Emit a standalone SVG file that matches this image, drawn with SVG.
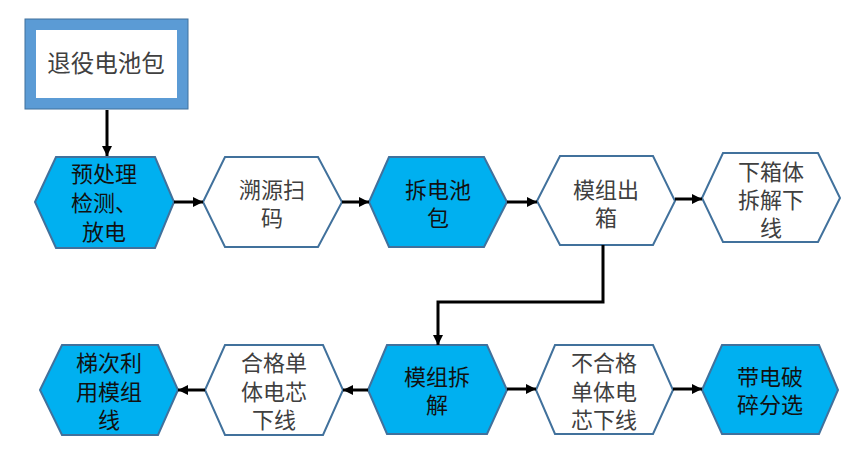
<svg xmlns="http://www.w3.org/2000/svg" width="863" height="472" viewBox="0 0 863 472">
<defs>
<style>
.blue{fill:#00B0F0;stroke:#41719C;stroke-width:2}
.white{fill:#FFFFFF;stroke:#41719C;stroke-width:2}
text{font-family:"Noto Sans CJK SC","Noto Sans",sans-serif;font-size:22px;text-anchor:middle}
.tb{fill:#111111}
.tw{fill:#404040}
.big{font-size:23.5px}
.conn{fill:none;stroke:#000;stroke-width:3}
</style>
<marker id="ah" markerUnits="userSpaceOnUse" markerWidth="12" markerHeight="12" refX="10" refY="5" orient="auto">
<path d="M0,0 L10,5 L0,10 Z" fill="#000"/>
</marker>
</defs>
<rect width="863" height="472" fill="#FFFFFF"/>
<g id="n0">
<rect x="30.5" y="24.5" width="152" height="79" fill="#FFFFFF" stroke="#5B9BD5" stroke-width="11"/>
<rect x="25" y="19" width="163" height="90" fill="none" stroke="#41719C" stroke-width="1"/>
<text class="tw big" x="106" y="72">退役电池包</text>
</g>
<g id="n1">
<polygon class="blue" points="35,202 56,157 155,157 174,202 155,248 56,248"/>
<text class="tb" x="104" y="182">预处理<tspan x="104" dy="29">检测、</tspan><tspan x="104" dy="29">放电</tspan></text>
</g>
<g id="n2">
<polygon class="white" points="203,202 225,157 318,157 342,202 318,247 225,247"/>
<text class="tw" x="272" y="198">溯源扫<tspan x="272" dy="28">码</tspan></text>
</g>
<g id="n3">
<polygon class="blue" points="369,202 389,157 484,157 507,202 484,247 389,247"/>
<text class="tb" x="438" y="198">拆电池<tspan x="438" dy="28">包</tspan></text>
</g>
<g id="n4">
<polygon class="white" points="537,201 560,156 653,156 675,201 653,245 560,245"/>
<text class="tw" x="606" y="198">模组出<tspan x="606" dy="28">箱</tspan></text>
</g>
<g id="n5">
<polygon class="white" points="702,198 723,153 818,153 840,198 818,242 723,242"/>
<text class="tw" x="771" y="180">下箱体<tspan x="771" dy="28">拆解下</tspan><tspan x="771" dy="28">线</tspan></text>
</g>
<g id="n6">
<polygon class="blue" points="40,390 62,345 158,345 178,390 158,435 62,435"/>
<text class="tb" x="109" y="371">梯次利<tspan x="109" dy="29">用模组</tspan><tspan x="109" dy="28">线</tspan></text>
</g>
<g id="n7">
<polygon class="white" points="205,390 225,345 323,345 343,390 323,435 225,435"/>
<text class="tw" x="274" y="371">合格单<tspan x="274" dy="29">体电芯</tspan><tspan x="274" dy="28">下线</tspan></text>
</g>
<g id="n8">
<polygon class="blue" points="368,390 387,345 487,345 507,390 487,434 387,434"/>
<text class="tb" x="437" y="385">模组拆<tspan x="437" dy="28">解</tspan></text>
</g>
<g id="n9">
<polygon class="white" points="536,390 555,345 653,345 673,390 653,434 555,434"/>
<text class="tw" x="604" y="371">不合格<tspan x="604" dy="29">单体电</tspan><tspan x="604" dy="28">芯下线</tspan></text>
</g>
<g id="n10">
<polygon class="blue" points="702,390 722,345 819,345 838,390 819,434 722,434"/>
<text class="tb" x="770" y="385">带电破<tspan x="770" dy="28">碎分选</tspan></text>
</g>
<g id="connectors">
<line class="conn" x1="107" y1="110" x2="107" y2="156" marker-end="url(#ah)"/>
<line class="conn" x1="174" y1="202" x2="203" y2="202" marker-end="url(#ah)"/>
<line class="conn" x1="342" y1="202" x2="369" y2="202" marker-end="url(#ah)"/>
<line class="conn" x1="507" y1="202" x2="537" y2="202" marker-end="url(#ah)"/>
<line class="conn" x1="675" y1="199" x2="702" y2="199" marker-end="url(#ah)"/>
<polyline class="conn" points="603,245 603,302 438,302 438,345" marker-end="url(#ah)"/>
<line class="conn" x1="205" y1="390" x2="178" y2="390" marker-end="url(#ah)"/>
<line class="conn" x1="368" y1="390" x2="343" y2="390" marker-end="url(#ah)"/>
<line class="conn" x1="507" y1="389" x2="536" y2="389" marker-end="url(#ah)"/>
<line class="conn" x1="673" y1="389" x2="702" y2="389" marker-end="url(#ah)"/>
</g>
</svg>
